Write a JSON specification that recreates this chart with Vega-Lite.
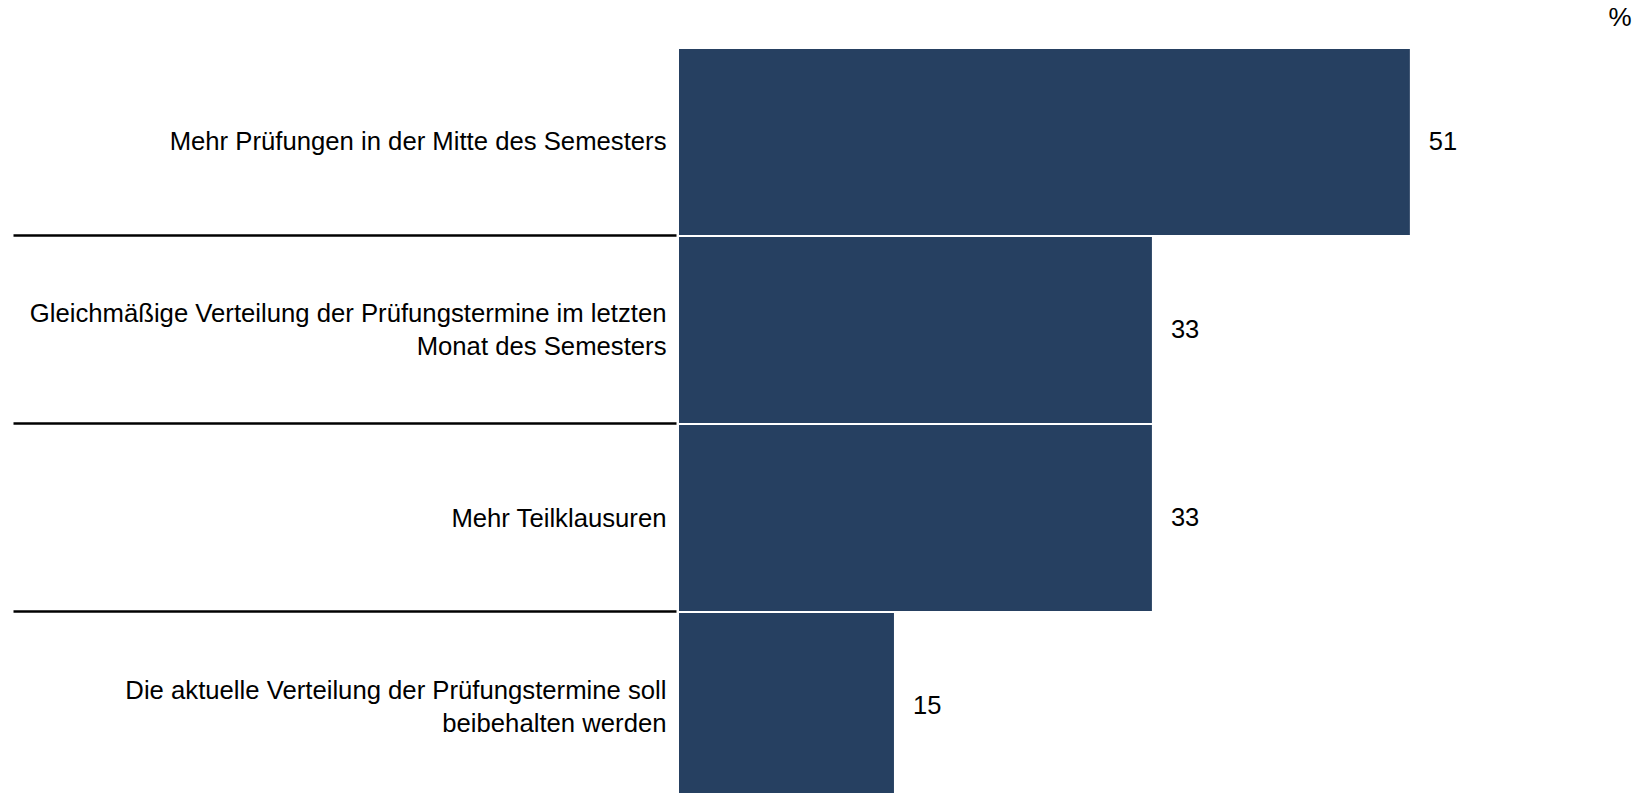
{
  "$schema": "https://vega.github.io/schema/vega-lite/v6.json",
  "width": 952,
  "height": 750,
  "autosize": {"type": "none"},
  "padding": {"left": 679, "top": 49, "right": 12, "bottom": 0},
  "background": "white",
  "config": {"view": {"stroke": null}, "font": "Liberation Sans"},
  "data": {
    "values": [
      {"cat": "Mehr Prüfungen in der Mitte des Semesters", "value": 51},
      {"cat": "Gleichmäßige Verteilung der Prüfungstermine im letzten\nMonat des Semesters", "value": 33},
      {"cat": "Mehr Teilklausuren", "value": 33},
      {"cat": "Die aktuelle Verteilung der Prüfungstermine soll\nbeibehalten werden", "value": 15}
    ]
  },
  "encoding": {
    "y": {
      "field": "cat",
      "type": "nominal",
      "sort": null,
      "scale": {"paddingInner": 0.011, "paddingOuter": 0},
      "axis": {
        "title": null,
        "domain": false,
        "orient": "left",
        "offset": 3,
        "tickBand": "extent",
        "tickSize": 663,
        "tickWidth": 2.5,
        "tickColor": "black",
        "tickOpacity": {"condition": {"test": "!isValid(datum.value)", "value": 0}, "value": 1},
        "labelOffset": {"condition": {"test": "isValid(datum.value) && indexof(datum.value, '\\n') >= 0", "value": -16}, "value": 0},
        "labelPadding": -653,
        "labelFont": "Liberation Sans",
        "labelFontSize": 25.7,
        "labelColor": "black",
        "labelLimit": 0,
        "labelLineHeight": 33,
        "labelBaseline": "middle",
        "labelAlign": "right",
        "labelExpr": "isValid(datum.value) ? split(datum.value, '\\n') : ''"
      }
    },
    "x": {
      "field": "value",
      "type": "quantitative",
      "scale": {"domain": [0, 66.43], "nice": false, "zero": true},
      "axis": {
        "orient": "top",
        "title": "%",
        "titleAnchor": "end",
        "titleAngle": 0,
        "titleFont": "Liberation Sans",
        "titleFontSize": 26,
        "titleFontWeight": "normal",
        "titleColor": "black",
        "titlePadding": 19,
        "labels": false,
        "ticks": false,
        "domain": false,
        "grid": false
      }
    }
  },
  "layer": [
    {"mark": {"type": "bar", "color": "#264061", "clip": false}},
    {
      "mark": {"type": "text", "align": "left", "baseline": "middle", "dx": 19, "fontSize": 25.5, "font": "Liberation Sans", "color": "black"},
      "encoding": {"text": {"field": "value", "type": "quantitative"}}
    }
  ]
}
